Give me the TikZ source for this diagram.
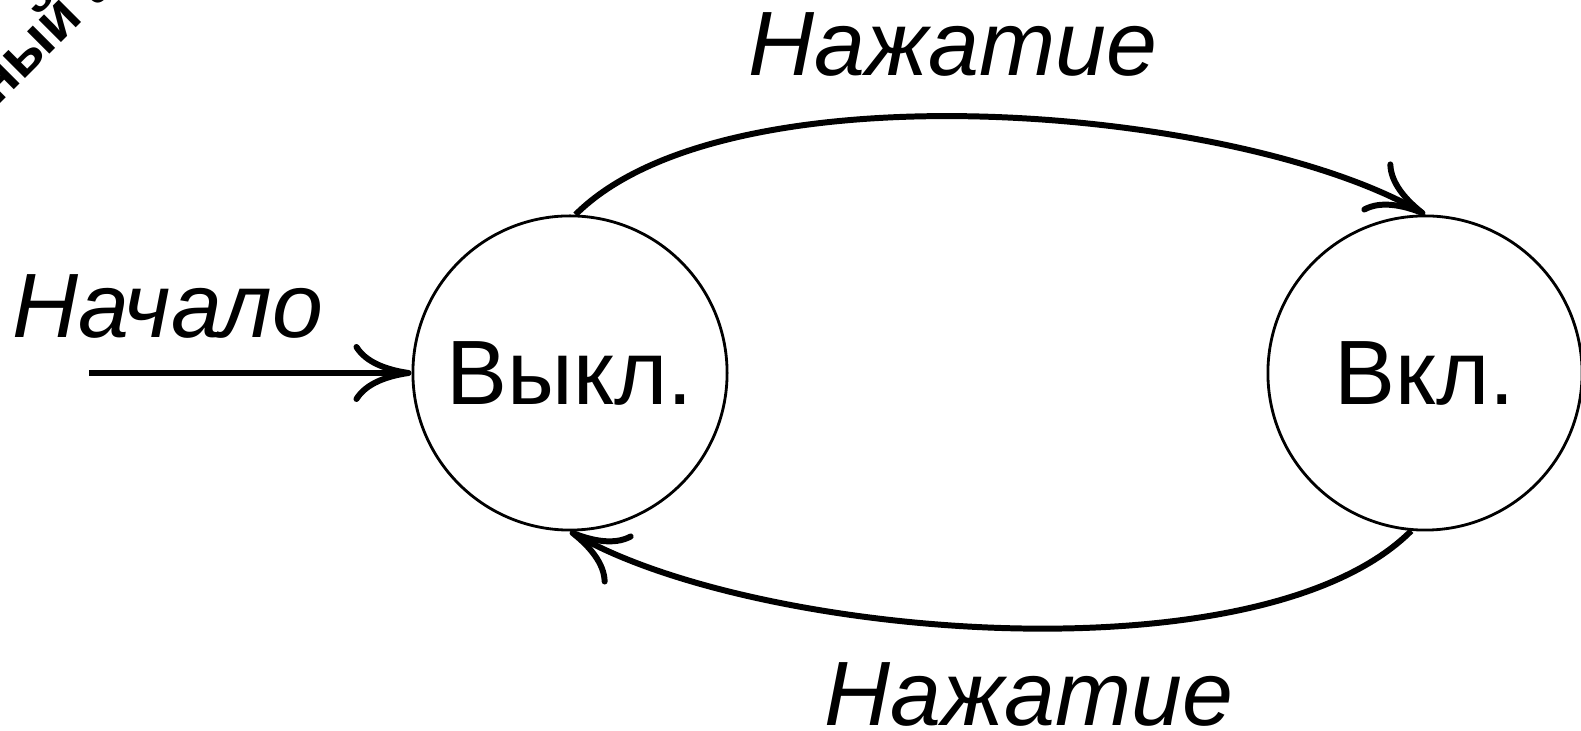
\documentclass[tikz,border=0pt]{standalone}
\usepackage{fontspec}
\setmainfont{Liberation Sans}
\usetikzlibrary{arrows.meta}

\begin{document}
\begin{tikzpicture}[x=0.01cm, y=0.01cm,
    state/.style={draw, circle, minimum size=3.14cm, inner sep=0pt, line width=0.8pt, font=\fontsize{26}{30}\selectfont},
    edge/.style={-{Computer Modern Rightarrow[length=5.8mm, width=5.8mm]}, line width=1.7pt},
    lbl/.style={anchor=base, font=\fontsize{26}{30}\selectfont\itshape}]
    \useasboundingbox (0,0) rectangle (1581,-731);
    % Switch states
    \node[state] (off) at (570,-373) {Выкл.};
    \node[state] (on) at (1425,-373) {Вкл.};
    \coordinate (start) at (89,-373);

    \draw[edge] (start) -- (off);
    \draw[edge] (off.88) to[out=45, in=150, looseness=0.65] (on.north);
    \draw[edge] (on.265) to[out=225, in=-30, looseness=0.65] (off.south);

    \node[lbl] (startlbl) at (168,-338) {Начало};
    \node[lbl] (presstop) at (953,-76) {Нажатие};
    \node[lbl] (pressbot) at (1029,-726) {Нажатие};

    % corner stamp, cut by the page edge
    \node[rotate=45, anchor=base west, inner sep=0pt, font=\bfseries\fontsize{17}{20}\selectfont] (stamp) at (-29,-133) {нный а};
\end{tikzpicture}
\end{document}
